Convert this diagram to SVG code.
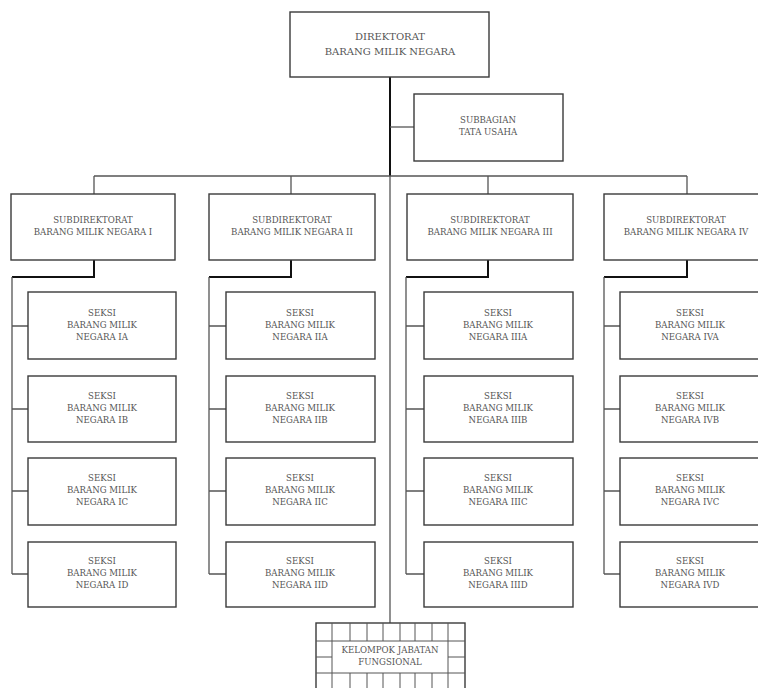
<svg xmlns="http://www.w3.org/2000/svg" width="758" height="688" viewBox="0 0 758 688">
<style>
.box{fill:#fff;stroke:#3a3a3a;stroke-width:1.4}
.t{font-family:"DejaVu Serif","Liberation Serif",serif;font-size:8.6px;fill:#555;text-anchor:middle}
.tb{font-size:10px}
.c{fill:none;stroke:#555;stroke-width:1.3}
.ck{fill:none;stroke:#111;stroke-width:2}
.g{fill:none;stroke:#555;stroke-width:1}
</style>
<rect width="758" height="688" fill="#fff"/>
<g id="connectors">
<path class="ck" d="M390 77V176"/>
<path class="c" d="M390 176V623"/>
<path class="c" d="M390 127H414"/>
<path class="c" d="M94 176H687M94 176V194M291 176V194M488 176V194M687 176V194"/>
<path class="ck" d="M94 260V277H12"/>
<path class="c" d="M12 277V574M12 326H28M12 409H28M12 491H28M12 574H28"/>
<path class="ck" d="M291 260V277H209"/>
<path class="c" d="M209 277V574M209 326H226M209 409H226M209 491H226M209 574H226"/>
<path class="ck" d="M488 260V277H406"/>
<path class="c" d="M406 277V574M406 326H424M406 409H424M406 491H424M406 574H424"/>
<path class="ck" d="M687 260V277H604"/>
<path class="c" d="M604 277V574M604 326H620M604 409H620M604 491H620M604 574H620"/>
</g>
<g id="direktorat">
<rect class="box" x="290" y="12" width="199" height="65"/>
<text class="t tb" x="390" y="40">DIREKTORAT</text>
<text class="t tb" x="390" y="55">BARANG MILIK NEGARA</text>
</g>
<g id="subbagian">
<rect class="box" x="414" y="94" width="149" height="67"/>
<text class="t" x="488" y="123">SUBBAGIAN</text>
<text class="t" x="488" y="135">TATA USAHA</text>
</g>
<g id="subdir1">
<rect class="box" x="11" y="194" width="164" height="66"/>
<text class="t" x="93" y="223">SUBDIREKTORAT</text>
<text class="t" x="93" y="235">BARANG MILIK NEGARA I</text>
</g>
<g id="subdir2">
<rect class="box" x="209" y="194" width="166" height="66"/>
<text class="t" x="292" y="223">SUBDIREKTORAT</text>
<text class="t" x="292" y="235">BARANG MILIK NEGARA II</text>
</g>
<g id="subdir3">
<rect class="box" x="407" y="194" width="166" height="66"/>
<text class="t" x="490" y="223">SUBDIREKTORAT</text>
<text class="t" x="490" y="235">BARANG MILIK NEGARA III</text>
</g>
<g id="subdir4">
<rect class="box" x="604" y="194" width="160" height="66"/>
<text class="t" x="686" y="223">SUBDIREKTORAT</text>
<text class="t" x="686" y="235">BARANG MILIK NEGARA IV</text>
</g>
<g id="seksi-IA"><rect class="box" x="28" y="292" width="148" height="67"/><text class="t" x="102" y="316">SEKSI</text><text class="t" x="102" y="328">BARANG MILIK</text><text class="t" x="102" y="340">NEGARA IA</text></g>
<g id="seksi-IB"><rect class="box" x="28" y="376" width="148" height="66"/><text class="t" x="102" y="399">SEKSI</text><text class="t" x="102" y="411">BARANG MILIK</text><text class="t" x="102" y="423">NEGARA IB</text></g>
<g id="seksi-IC"><rect class="box" x="28" y="458" width="148" height="67"/><text class="t" x="102" y="481">SEKSI</text><text class="t" x="102" y="493">BARANG MILIK</text><text class="t" x="102" y="505">NEGARA IC</text></g>
<g id="seksi-ID"><rect class="box" x="28" y="542" width="148" height="65"/><text class="t" x="102" y="564">SEKSI</text><text class="t" x="102" y="576">BARANG MILIK</text><text class="t" x="102" y="588">NEGARA ID</text></g>
<g id="seksi-IIA"><rect class="box" x="226" y="292" width="149" height="67"/><text class="t" x="300" y="316">SEKSI</text><text class="t" x="300" y="328">BARANG MILIK</text><text class="t" x="300" y="340">NEGARA IIA</text></g>
<g id="seksi-IIB"><rect class="box" x="226" y="376" width="149" height="66"/><text class="t" x="300" y="399">SEKSI</text><text class="t" x="300" y="411">BARANG MILIK</text><text class="t" x="300" y="423">NEGARA IIB</text></g>
<g id="seksi-IIC"><rect class="box" x="226" y="458" width="149" height="67"/><text class="t" x="300" y="481">SEKSI</text><text class="t" x="300" y="493">BARANG MILIK</text><text class="t" x="300" y="505">NEGARA IIC</text></g>
<g id="seksi-IID"><rect class="box" x="226" y="542" width="149" height="65"/><text class="t" x="300" y="564">SEKSI</text><text class="t" x="300" y="576">BARANG MILIK</text><text class="t" x="300" y="588">NEGARA IID</text></g>
<g id="seksi-IIIA"><rect class="box" x="424" y="292" width="149" height="67"/><text class="t" x="498" y="316">SEKSI</text><text class="t" x="498" y="328">BARANG MILIK</text><text class="t" x="498" y="340">NEGARA IIIA</text></g>
<g id="seksi-IIIB"><rect class="box" x="424" y="376" width="149" height="66"/><text class="t" x="498" y="399">SEKSI</text><text class="t" x="498" y="411">BARANG MILIK</text><text class="t" x="498" y="423">NEGARA IIIB</text></g>
<g id="seksi-IIIC"><rect class="box" x="424" y="458" width="149" height="67"/><text class="t" x="498" y="481">SEKSI</text><text class="t" x="498" y="493">BARANG MILIK</text><text class="t" x="498" y="505">NEGARA IIIC</text></g>
<g id="seksi-IIID"><rect class="box" x="424" y="542" width="149" height="65"/><text class="t" x="498" y="564">SEKSI</text><text class="t" x="498" y="576">BARANG MILIK</text><text class="t" x="498" y="588">NEGARA IIID</text></g>
<g id="seksi-IVA"><rect class="box" x="620" y="292" width="144" height="67"/><text class="t" x="690" y="316">SEKSI</text><text class="t" x="690" y="328">BARANG MILIK</text><text class="t" x="690" y="340">NEGARA IVA</text></g>
<g id="seksi-IVB"><rect class="box" x="620" y="376" width="144" height="66"/><text class="t" x="690" y="399">SEKSI</text><text class="t" x="690" y="411">BARANG MILIK</text><text class="t" x="690" y="423">NEGARA IVB</text></g>
<g id="seksi-IVC"><rect class="box" x="620" y="458" width="144" height="67"/><text class="t" x="690" y="481">SEKSI</text><text class="t" x="690" y="493">BARANG MILIK</text><text class="t" x="690" y="505">NEGARA IVC</text></g>
<g id="seksi-IVD"><rect class="box" x="620" y="542" width="144" height="65"/><text class="t" x="690" y="564">SEKSI</text><text class="t" x="690" y="576">BARANG MILIK</text><text class="t" x="690" y="588">NEGARA IVD</text></g>
<g id="kelompok-jabatan-fungsional">
<rect class="box" x="316" y="623" width="149" height="70"/>
<path class="g" d="M316 641H465M316 673H465M316 657H332M448 657H465M332 641V673M448 641V673"/>
<path class="g" d="M332 623V641M350 623V641M367 623V641M383 623V641M400 623V641M415 623V641M432 623V641M448 623V641"/>
<path class="g" d="M332 673V688M350 673V688M367 673V688M383 673V688M400 673V688M415 673V688M432 673V688M448 673V688"/>
<text class="t" x="390" y="653">KELOMPOK JABATAN</text>
<text class="t" x="390" y="665">FUNGSIONAL</text>
</g>
</svg>
